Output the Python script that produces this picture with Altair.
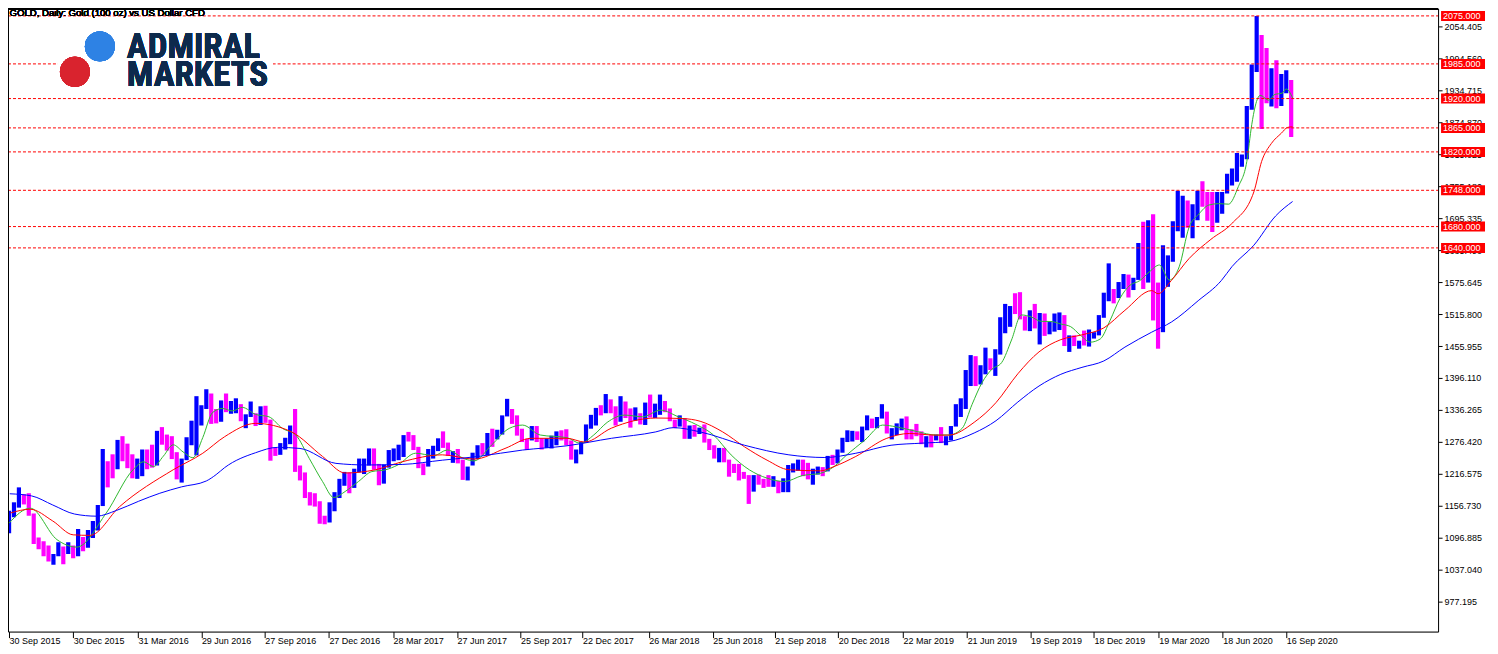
import altair as alt
import pandas as pd

# ---------------- data ----------------
first_open = 1115
# weekly bars, week ending Fridays from 2015-10-02
week_high = [1147,1163,1191,1178,1180,1142,1097,1090,1082,1066,1088,1080,1088,1082,1113,1098,1111,1128,1158,1263,
             1240,1253,1280,1287,1273,1253,1245,1262,1262,1271,1297,1304,1290,1287,1257,1245,1285,1316,1362,1345,
             1375,1367,1338,1354,1367,1353,1358,1347,1328,1352,1330,1343,1344,1318,1266,1274,1284,1307,1338,1232,
             1219,1182,1180,1165,1138,1163,1182,1207,1220,1219,1226,1245,1245,1264,1264,1235,1234,1261,1264,1271,
             1289,1295,1289,1267,1236,1263,1269,1283,1296,1275,1259,1263,1243,1230,1256,1270,1274,1293,1301,1299,
             1326,1357,1338,1326,1301,1282,1306,1306,1283,1283,1288,1296,1298,1300,1279,1262,1276,1309,1327,1340,
             1345,1366,1356,1343,1362,1352,1339,1341,1330,1350,1365,1348,1365,1353,1339,1318,1326,1321,1307,1308,
             1303,1309,1282,1270,1265,1265,1243,1235,1235,1220,1214,1214,1215,1207,1214,1212,1203,1208,1233,1236,
             1243,1243,1237,1226,1230,1229,1250,1252,1262,1284,1298,1297,1296,1305,1326,1320,1323,1347,1333,1302,
             1311,1320,1324,1300,1310,1296,1287,1289,1290,1304,1287,1306,1347,1358,1411,1439,1437,1420,1453,1433,
             1450,1510,1535,1531,1555,1557,1512,1523,1535,1518,1517,1501,1517,1519,1514,1476,1476,1466,1485,1487,
             1482,1514,1556,1611,1563,1576,1591,1590,1584,1649,1689,1692,1703,1575,1645,1626,1690,1747,1738,1729,
             1722,1747,1765,1745,1745,1745,1745,1779,1789,1818,1815,1906,1984,2075,2039,2015,1977,1992,1966,1973,
             1955]
week_low = [1105,1135,1153,1159,1138,1085,1075,1062,1052,1046,1062,1047,1066,1058,1062,1071,1078,1096,1110,1156,
            1191,1208,1225,1240,1227,1208,1207,1212,1225,1228,1232,1271,1260,1244,1206,1200,1242,1270,1251,1307,
            1338,1310,1311,1314,1332,1329,1330,1315,1302,1323,1306,1308,1312,1241,1250,1252,1262,1272,1220,1204,
            1171,1157,1155,1123,1122,1125,1146,1171,1194,1180,1190,1219,1216,1232,1224,1195,1198,1228,1240,1242,
            1248,1277,1261,1227,1214,1230,1245,1259,1265,1250,1237,1236,1205,1204,1232,1244,1252,1251,1267,1281,
            1290,1324,1310,1288,1276,1261,1279,1276,1262,1265,1264,1270,1279,1270,1243,1236,1253,1275,1301,1307,
            1326,1330,1330,1307,1314,1321,1303,1316,1309,1308,1322,1321,1327,1332,1315,1302,1305,1282,1282,1286,
            1291,1275,1261,1245,1238,1238,1211,1218,1204,1207,1160,1183,1196,1190,1192,1192,1180,1182,1182,1219,
            1222,1212,1206,1196,1215,1212,1221,1233,1236,1256,1276,1277,1280,1276,1298,1302,1302,1320,1292,1281,
            1289,1298,1281,1281,1287,1272,1266,1266,1279,1274,1270,1279,1305,1323,1338,1381,1381,1384,1403,1411,
            1400,1440,1480,1492,1516,1506,1485,1484,1489,1459,1475,1478,1483,1486,1456,1445,1456,1451,1457,1455,
            1470,1476,1509,1540,1536,1546,1563,1547,1561,1580,1563,1575,1504,1451,1482,1567,1614,1671,1659,1678,
            1658,1692,1717,1691,1670,1687,1704,1742,1757,1764,1792,1806,1899,1970,1863,1911,1905,1902,1906,1930,
            1848]
week_close = [1137,1156,1177,1162,1142,1088,1081,1076,1056,1061,1075,1065,1076,1061,1097,1088,1097,1117,1157,1239,
              1227,1222,1271,1259,1255,1221,1222,1243,1234,1231,1290,1289,1273,1252,1216,1243,1275,1298,1322,1340,
              1366,1327,1323,1351,1336,1336,1341,1321,1327,1328,1310,1339,1316,1257,1251,1267,1276,1304,1225,1207,
              1178,1177,1160,1134,1132,1151,1172,1196,1205,1190,1220,1234,1239,1257,1234,1201,1229,1243,1249,1254,
              1288,1284,1268,1228,1227,1254,1268,1279,1271,1254,1256,1242,1212,1228,1254,1269,1258,1289,1285,1292,
              1325,1346,1320,1297,1280,1274,1304,1280,1266,1269,1274,1294,1288,1280,1248,1257,1275,1303,1320,1338,
              1333,1350,1333,1316,1347,1329,1323,1324,1313,1347,1325,1332,1345,1336,1323,1314,1320,1291,1302,1293,
              1298,1278,1269,1252,1255,1241,1231,1223,1214,1211,1184,1206,1201,1196,1194,1200,1191,1203,1222,1227,
              1234,1233,1209,1222,1223,1222,1248,1238,1258,1280,1285,1289,1282,1304,1318,1314,1322,1328,1294,1298,
              1302,1313,1292,1291,1290,1275,1286,1280,1285,1277,1284,1305,1341,1341,1399,1409,1399,1415,1426,1419,
              1440,1497,1513,1527,1520,1507,1488,1517,1497,1505,1489,1490,1505,1515,1459,1468,1462,1464,1459,1476,
              1478,1511,1552,1562,1557,1571,1589,1570,1584,1643,1585,1674,1530,1498,1617,1620,1683,1683,1728,1700,
              1703,1743,1735,1730,1684,1730,1744,1771,1775,1799,1810,1902,1975,2035,1944,1940,1964,1933,1940,1950,
              1862]

# fast moving average (green)
green_dates = ["2015-09-30","2015-10-30","2015-12-07","2016-01-04","2016-02-15","2016-03-24","2016-04-08",
               "2016-04-22","2016-05-06","2016-05-20","2016-06-03","2016-06-17","2016-07-01","2016-07-15",
               "2016-07-29","2016-08-12","2016-08-26","2016-09-14","2016-10-03","2016-10-22","2016-11-10",
               "2016-11-29","2016-12-18","2017-01-03","2017-01-19","2017-02-07","2017-02-26","2017-03-17",
               "2017-04-04","2017-04-29","2017-05-25","2017-06-13","2017-07-08","2017-07-21","2017-08-15",
               "2017-09-09","2017-09-28","2017-10-23","2017-11-30","2017-12-19","2018-01-07","2018-01-26",
               "2018-02-20","2018-03-17","2018-04-12","2018-05-07","2018-06-01","2018-06-26","2018-07-21",
               "2018-08-16","2018-09-10","2018-10-05","2018-10-30","2018-11-25","2018-12-14","2019-01-01",
               "2019-01-27","2019-02-21","2019-03-12","2019-04-12","2019-05-07","2019-05-26","2019-06-14",
               "2019-06-28","2019-07-12","2019-07-26","2019-08-09","2019-08-23","2019-09-06","2019-09-20",
               "2019-10-04","2019-10-18","2019-11-01","2019-11-15","2019-11-29","2019-12-13","2019-12-27",
               "2020-01-10","2020-01-24","2020-02-07","2020-02-21","2020-03-06","2020-03-20","2020-04-03",
               "2020-04-17","2020-05-01","2020-05-15","2020-05-29","2020-06-12","2020-06-26","2020-07-10",
               "2020-07-22","2020-07-29","2020-08-03","2020-08-10","2020-08-22","2020-08-31","2020-09-10",
               "2020-09-16","2020-09-25"]
green_values = [1124,1152,1093,1079,1143,1224,1239,
                1230,1249.5,1270.8,1257.5,1246.5,1284.5,1331.5,
                1339,1334.3,1341,1327.8,1323.3,1301.6,1289.2,
                1245.6,1202,1172,1183.2,1202,1220.6,1223.8,
                1233.1,1255,1250.5,1261.1,1244.3,1240.6,1270.5,
                1301.6,1307.8,1289.2,1284.1,1273.6,1289.2,1312.8,
                1326.5,1323.3,1335.8,1323.3,1309.1,1289.2,1251.8,
                1223.8,1208.3,1202,1213.1,1217.5,1229.9,1251.8,
                1279.8,1307.8,1304.6,1295.3,1289.2,1289.2,1301.8,
                1346.5,1387,1412.3,1425,1467.3,1514.3,1510.5,
                1502.3,1502,1497.3,1492.3,1476,1463.3,1469.3,
                1504.3,1545.5,1569.8,1578.5,1595.5,1608,1579.8,
                1604.5,1678.5,1703.5,1720.3,1723,1722,1755,
                1802,1871,1906,1926,1917,1928,1930,
                1938,1921]

# middle moving average (red)
red_dates = ["2015-10-02","2015-10-30","2015-12-01","2015-12-30","2016-01-23","2016-03-05","2016-05-20",
             "2016-07-01","2016-08-01","2016-09-14","2016-11-04","2016-12-18","2017-01-19","2017-03-03",
             "2017-04-10","2017-06-06","2017-07-21","2017-09-03","2017-10-10","2017-11-30","2017-12-25",
             "2018-02-01","2018-04-05","2018-05-13","2018-06-07","2018-07-09","2018-08-09","2018-09-10",
             "2018-10-11","2018-11-25","2018-12-14","2019-01-14","2019-02-27","2019-03-31","2019-05-07",
             "2019-05-26","2019-07-01","2019-08-01","2019-09-01","2019-10-01","2019-11-01","2019-12-01",
             "2020-01-01","2020-01-31","2020-03-09","2020-03-18","2020-04-06","2020-05-01","2020-06-01",
             "2020-07-01","2020-08-01","2020-08-12","2020-08-26","2020-09-09","2020-09-18","2020-09-25"]
red_values = [1143,1150,1128,1102,1101,1155,1224,
              1255,1286,1311,1295,1249,1218,1224,
              1239,1252,1244,1264,1283,1283,1276,
              1302,1321,1320,1315,1295,1267,1242,
              1224,1222,1230,1249,1283,1292,1289,
              1289,1313,1350,1404,1445,1468,1477,
              1490,1523,1560,1554,1579,1620,1656,
              1686,1745,1802,1836,1855,1866,1867]

# slow moving average (blue)
blue_dates = ["2015-10-01","2015-11-01","2015-12-01","2016-01-01","2016-02-01","2016-03-01","2016-04-01",
              "2016-05-01","2016-06-01","2016-07-06","2016-07-20","2016-08-01","2016-09-14","2016-10-15",
              "2016-11-16","2017-01-06","2017-02-19","2017-04-10","2017-06-06","2017-07-27","2017-09-28",
              "2017-11-30","2018-02-01","2018-04-05","2018-04-30","2018-06-07","2018-08-09","2018-10-11",
              "2018-12-01","2019-01-14","2019-03-05","2019-04-19","2019-05-26","2019-07-01","2019-08-01",
              "2019-09-01","2019-10-01","2019-11-01","2019-12-01","2020-01-01","2020-01-31","2020-03-09",
              "2020-04-06","2020-05-14","2020-06-16","2020-07-01","2020-08-01","2020-09-01","2020-09-25"]
blue_values = [1179,1175,1158,1141,1137,1148,1165,
               1180,1192,1203,1215,1228,1256,1266,
               1264,1236,1233,1234,1242,1249,1261,
               1269,1283,1295,1303,1295,1270,1252,
               1247,1255,1270,1274,1277,1293,1316,
               1351,1381,1403,1416,1428,1454,1482,
               1501,1541,1579,1605,1645,1700,1727]

levels = [2075, 1985, 1920, 1865, 1820, 1748, 1680, 1640]
y_tick_values = [977.195,1037.04,1096.885,1156.73,1216.575,1276.42,1336.265,1396.11,1455.955,1515.8,
                 1575.645,1635.49,1695.335,1755.18,1815.025,1874.87,1934.715,1994.56,2054.405]
x_tick_dates = ["2015-09-30","2015-12-30","2016-03-31","2016-06-29","2016-09-27","2016-12-27","2017-03-28",
                "2017-06-27","2017-09-25","2017-12-22","2018-03-26","2018-06-25","2018-09-21","2018-12-20",
                "2019-03-22","2019-06-21","2019-09-19","2019-12-18","2020-03-19","2020-06-18","2020-09-16"]
title_text = "GOLD, Daily:  Gold (100 oz) vs US Dollar CFD"

# ---------------- tables ----------------
week_end = pd.date_range("2015-10-02", periods=len(week_close), freq="W-FRI")
opens = [first_open] + week_close[:-1]
bars = pd.DataFrame({
    "date": (week_end - pd.Timedelta(days=2)).strftime("%Y-%m-%dT12:00:00"),
    "low": week_low,
    "high": week_high,
    "dir": ["up" if c >= o else "down" for c, o in zip(week_close, opens)],
})


def ma_frame(dates, values):
    return pd.DataFrame({"date": [d + "T12:00:00" for d in dates], "value": values})


green = ma_frame(green_dates, green_values)
red = ma_frame(red_dates, red_values)
blue = ma_frame(blue_dates, blue_values)
lev = pd.DataFrame({"level": levels})


def dt(s):
    y, m, d = (int(v) for v in s.split("-"))
    return alt.DateTime(year=y, month=m, date=d, hours=12)


W, H = 1432, 624
FONT = "Liberation Sans"

x_scale = alt.Scale(domain=[alt.DateTime(year=2015, month=9, date=29),
                            alt.DateTime(year=2021, month=4, date=20)])
y_scale = alt.Scale(domain=[920.6, 2089.0], nice=False, zero=False)

x_axis = alt.Axis(values=[dt(s) for s in x_tick_dates], format="%d %b %Y", title=None, grid=False,
                  labelAlign="left", labelBaseline="top", tickSize=6, labelPadding=-1,
                  labelFont=FONT, labelFontSize=9, labelColor="black", tickColor="black",
                  domainColor="black", labelFlush=False, labelOverlap=False)
y_axis = alt.Axis(orient="right", values=y_tick_values, format=".3f", title=None, grid=False,
                  tickSize=4, labelPadding=2, labelFont=FONT, labelFontSize=9, labelColor="black",
                  tickColor="black", domainColor="black", labelFlush=False, labelOverlap=False)

X = alt.X("date:T", scale=x_scale, axis=x_axis)

bar_layer = alt.Chart(bars).mark_rule(strokeWidth=4.2, clip=True).encode(
    x=X,
    y=alt.Y("low:Q", scale=y_scale, axis=y_axis),
    y2="high:Q",
    color=alt.Color("dir:N", scale=alt.Scale(domain=["up", "down"], range=["#0000ff", "#ff00ff"]), legend=None),
)


def ma_line(df, col):
    return alt.Chart(df).mark_line(strokeWidth=1, color=col, clip=True, interpolate="monotone").encode(
        x=X, y=alt.Y("value:Q", scale=y_scale, axis=y_axis))


level_rules = alt.Chart(lev).mark_rule(color="#ff0000", strokeWidth=1, strokeDash=[3, 2]).encode(
    y=alt.Y("level:Q", scale=y_scale, axis=y_axis), x=alt.value(0), x2=alt.value(W))

# frame edges (top / left) kept fully inside the page
top_edge = alt.Chart(lev).mark_rule(color="black", strokeWidth=1).encode(
    x=alt.value(0), x2=alt.value(W), y=alt.value(0.5))
left_edge = alt.Chart(lev).mark_rule(color="black", strokeWidth=1).encode(
    x=alt.value(0.5), y=alt.value(0), y2=alt.value(H))

# logo
logo_bg = alt.Chart(lev).mark_rect(color="white").encode(
    x=alt.value(50), x2=alt.value(265), y=alt.value(16), y2=alt.value(82))
blue_dot = alt.Chart(lev).mark_point(filled=True, opacity=1, size=900, shape="circle", color="#2e82e4",
                                     strokeWidth=0).encode(x=alt.value(92), y=alt.value(38))
red_dot = alt.Chart(lev).mark_point(filled=True, opacity=1, size=900, shape="circle", color="#d9232e",
                                    strokeWidth=0).encode(x=alt.value(67), y=alt.value(63.5))
LOGO_FONT = "Liberation Sans Narrow, Roboto Condensed, DejaVu Sans Condensed, sans-serif"
logo_t1 = alt.Chart(lev).mark_text(align="left", baseline="alphabetic", font=LOGO_FONT, fontSize=35,
                                   fontWeight="bold", color="#0d2a4c").encode(
    x=alt.value(119), y=alt.value(50), text=alt.value("ADMIRAL"))
logo_t2 = alt.Chart(lev).mark_text(align="left", baseline="alphabetic", font=LOGO_FONT, fontSize=35,
                                   fontWeight="bold", color="#0d2a4c").encode(
    x=alt.value(119), y=alt.value(78), text=alt.value("MARKETS"))

title = alt.Chart(lev).mark_text(align="left", baseline="alphabetic", font=FONT, fontSize=9.6,
                                 color="black").encode(
    x=alt.value(1.5), y=alt.value(7.8), text=alt.value(title_text))

# price boxes on the right
box = alt.Chart(lev).mark_rule(color="#ff0000", strokeWidth=10, strokeCap="butt").encode(
    y=alt.Y("level:Q", scale=y_scale, axis=y_axis), x=alt.value(W + 3), x2=alt.value(W + 47))
box_text = alt.Chart(lev).mark_text(align="left", baseline="middle", font=FONT, fontSize=9,
                                    color="white").encode(
    y=alt.Y("level:Q", scale=y_scale, axis=y_axis), x=alt.value(W + 5),
    text=alt.Text("level:Q", format=".3f"))

chart = alt.layer(
    bar_layer,
    ma_line(green, "#2fb82f"),
    ma_line(red, "#ff0000"),
    ma_line(blue, "#0000ff"),
    level_rules,
    top_edge, left_edge,
    logo_bg, blue_dot, red_dot, logo_t1, logo_t2,
    title, box, box_text,
).properties(
    width=W, height=H,
    padding={"left": 0, "top": 0, "right": 52, "bottom": 14},
    autosize=alt.AutoSizeParams(type="none"),
).configure_view(stroke="black", strokeWidth=1).configure(background="white")

chart.save("out.html", embed_options={"renderer": "svg", "actions": False})
